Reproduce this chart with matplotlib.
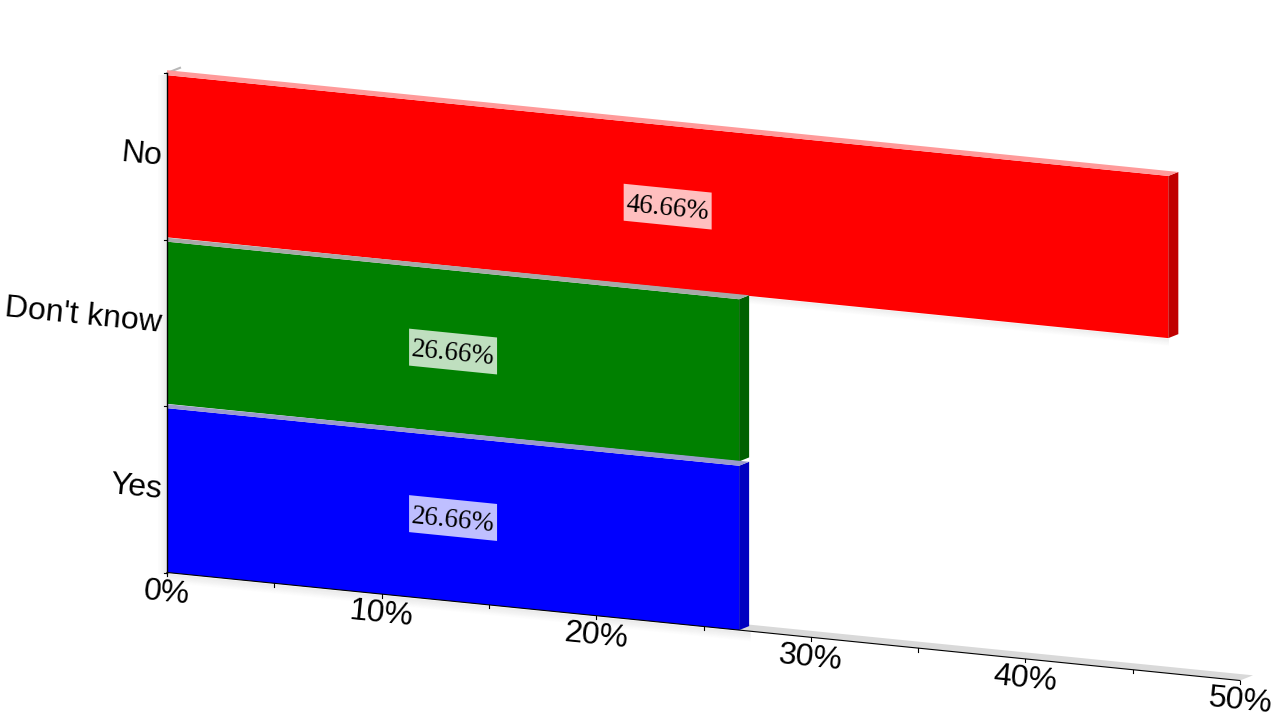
import matplotlib
matplotlib.use("Agg")
import matplotlib.pyplot as plt
from matplotlib.patches import Polygon
from matplotlib.transforms import Affine2D

categories = ["Yes", "Don't know", "No"]
values = [26.66, 26.66, 46.66]
front_colors = ["#0000ff", "#008000", "#ff0000"]
side_colors = ["#0000c0", "#006000", "#c00000"]
top_colors = ["#9a9acc", "#a8a8a8", "#ff9a9a"]
box_colors = ["#bfbfff", "#bfdfbf", "#ffbfbf"]
x_ticks = [0, 10, 20, 30, 40, 50]
x_minor = [5, 15, 25, 35, 45]

plt.rcParams['font.family'] = ['Liberation Sans', 'DejaVu Sans']

fig = plt.figure(figsize=(12.8, 7.2), dpi=100)
ax = fig.add_axes([0, 0, 1, 1])
ax.set_xlim(0, 1280)
ax.set_ylim(720, 0)
ax.axis('off')

# value/category -> pixels, the chart is a sheared plane
to_px = Affine2D.from_values(21.46, 2.16, 0, -166.5, 167, 572.5)
skew = to_px + ax.transData
depth_x = 0.466
depth_y = 0.03
inset = 0.013
angle = -5.75


def face(points, color, zorder=2, alpha=1.0):
    ax.add_patch(Polygon(points, closed=True, facecolor=color, edgecolor='none',
                         transform=skew, zorder=zorder, alpha=alpha))


# soft shadow along left side and under the floor
for i in range(1, 10):
    a = 0.06 * (10 - i) / 9
    ax.plot([167 - i, 167 - i], [75, 573], color='black', alpha=a, lw=1, zorder=1)
    ax.plot([167, 750], [573 + i, 573 + 58.7 + i], color='black', alpha=a, lw=1, zorder=1)

# floor and small wall piece
face([(0, 0), (50, 0), (50 + 1.3 * depth_x, 1.3 * depth_y), (1.3 * depth_x, 1.3 * depth_y)], "#d9d9d9", 1.5)
ax.plot(*to_px.transform([(0, 3), (1.3 * depth_x, 3 + 1.3 * depth_y)]).T, color="#b8b8b8", lw=1.5, zorder=1.5)

# bars, back to front
for i in [2, 1, 0]:
    v = values[i]
    low = i + inset if i > 0 else 0
    high = i + 1 - inset
    top_y = depth_y if i == 2 else 0.8 * depth_y
    face([(0, low), (v, low), (v, high), (0, high)], front_colors[i], 3)
    face([(v, low), (v + depth_x, low + depth_y), (v + depth_x, high + depth_y), (v, high)], side_colors[i], 3)
    face([(0, high), (v, high), (v + depth_x, high + depth_y), (0, high + top_y)], top_colors[i], 3)

    # shadow under the red bar's free end
    if i == 2:
        for k in range(1, 8):
            p = to_px.transform([(26.66 + depth_x, low), (v, low)])
            ax.plot(p[:, 0], p[:, 1] + k, color='black', alpha=0.05 * (8 - k) / 7, lw=1, zorder=2.5)

# value labels on skewed boxes
for i in range(3):
    v = values[i]
    cx = v / 2
    cy = i + 0.5
    face([(cx - 2.05, cy - 0.111), (cx + 2.05, cy - 0.111), (cx + 2.05, cy + 0.111), (cx - 2.05, cy + 0.111)],
         box_colors[i], 4)
    px, py = to_px.transform((cx, cy))
    ax.text(px, py + 2.5, "%.2f%%" % v, family=['Liberation Serif', 'DejaVu Serif'], fontsize=19.5, color='black',
            ha='center', va='center', rotation=angle, rotation_mode='anchor', zorder=5)

# axes lines
ax.plot(*to_px.transform([(0, 0), (0, 3)]).T, color='black', lw=1, zorder=6)
ax.plot(*to_px.transform([(0, 0), (50, 0)]).T, color='black', lw=0.8, zorder=6)

for i in range(4):
    px, py = to_px.transform((0, i))
    ax.plot([px - 3, px], [py, py], color='black', lw=0.8, zorder=6)

for t in x_ticks + x_minor:
    px, py = to_px.transform((t, 0))
    ax.plot([px, px], [py, py + 3.5], color='black', lw=0.8, zorder=6)

for t in x_ticks:
    px, py = to_px.transform((t, 0))
    ax.text(px, py + 20.5, "%d%%" % t, fontsize=23, color='black', ha='center', va='center',
            rotation=angle, rotation_mode='anchor', zorder=6)

for i in range(3):
    px, py = to_px.transform((0, i + 0.5))
    ax.text(px - 5, py + 1, categories[i], fontsize=23, color='black', ha='right', va='center',
            rotation=angle, rotation_mode='anchor', zorder=6)

fig.savefig('out.png', dpi=100)
